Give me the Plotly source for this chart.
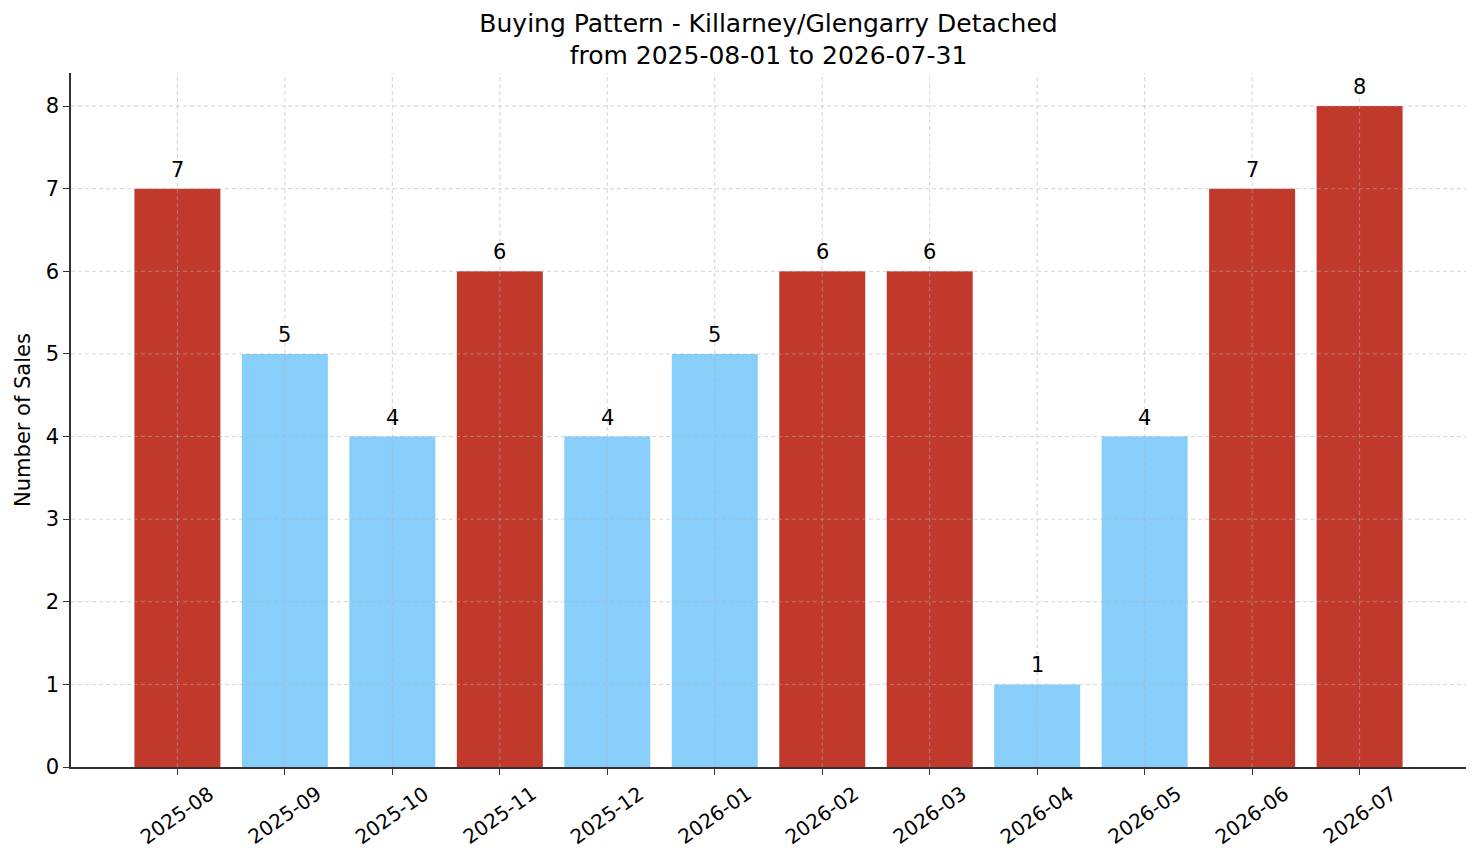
import plotly.graph_objects as go

# monthly sales
months = ["2025-08", "2025-09", "2025-10", "2025-11", "2025-12", "2026-01",
          "2026-02", "2026-03", "2026-04", "2026-05", "2026-06", "2026-07"]
sales = [7, 5, 4, 6, 4, 5, 6, 6, 1, 4, 7, 8]
y_ticks = [0, 1, 2, 3, 4, 5, 6, 7, 8]

title_text = "Buying Pattern - Killarney/Glengarry Detached<br>from 2025-08-01 to 2026-07-31"

# above-average months are red, the rest light blue
avg = sum(sales) / len(sales)
colors = ["#c0392b" if v > avg else "#87cefa" for v in sales]

FONT = "DejaVu Sans"
GRID = "rgba(176,176,176,0.55)"

fig = go.Figure(go.Bar(
    x=months,
    y=sales,
    width=0.8,
    marker=dict(color=colors, line_width=0),
    hoverinfo="x+y",
))

# matplotlib draws the grid on top of the bars, so use shapes for it
shapes = []
for m in months:
    shapes.append(dict(type="line", layer="above", xref="x", yref="paper",
                       x0=m, x1=m, y0=0, y1=1,
                       line=dict(color=GRID, width=1, dash="4px,3px")))
for t in y_ticks[1:]:
    shapes.append(dict(type="line", layer="above", xref="paper", yref="y",
                       x0=0, x1=1, y0=t, y1=t,
                       line=dict(color=GRID, width=1, dash="4px,3px")))

annotations = []
# value labels above the bars
for m, v in zip(months, sales):
    annotations.append(dict(x=m, y=v, xref="x", yref="y", text=str(v),
                            showarrow=False, xanchor="center", yanchor="bottom",
                            yshift=5,
                            font=dict(family=FONT, size=21, color="black")))
# rotated month labels centred under their ticks
for m in months:
    annotations.append(dict(x=m, y=0, xref="x", yref="paper",
                            text=m, showarrow=False, textangle=-35,
                            xanchor="center", yanchor="middle", yshift=-48,
                            font=dict(family=FONT, size=20, color="black")))

# the page has an 8px body margin, so the figure is shrunk by that much
fig.update_layout(
    width=1473, height=855,
    margin=dict(l=63, r=15, t=65, b=96),
    paper_bgcolor="white",
    plot_bgcolor="white",
    font=dict(family=FONT, size=21, color="black"),
    title=dict(text=title_text, x=0.5, xref="paper", xanchor="center",
               y=0.972, yref="container", yanchor="middle",
               font=dict(family=FONT, size=25, color="black")),
    showlegend=False,
    shapes=shapes,
    annotations=annotations,
)

fig.update_xaxes(
    type="category",
    range=[-0.99, 11.99],
    showgrid=False,
    showticklabels=False,
    ticks="outside", ticklen=6, tickwidth=1.2, tickcolor="#333333",
    showline=True, linecolor="#333333", linewidth=1.5,
    zeroline=False,
)

fig.update_yaxes(
    range=[0, 8.4],
    tickvals=y_ticks,
    showgrid=False,
    ticks="outside", ticklen=6, tickwidth=1.2, tickcolor="#333333",
    tickfont=dict(family=FONT, size=21, color="black"),
    showline=True, linecolor="#333333", linewidth=1.5,
    zeroline=False,
    title=dict(text="Number of Sales", standoff=9,
               font=dict(family=FONT, size=21, color="black")),
)

fig.write_html("out.html")
